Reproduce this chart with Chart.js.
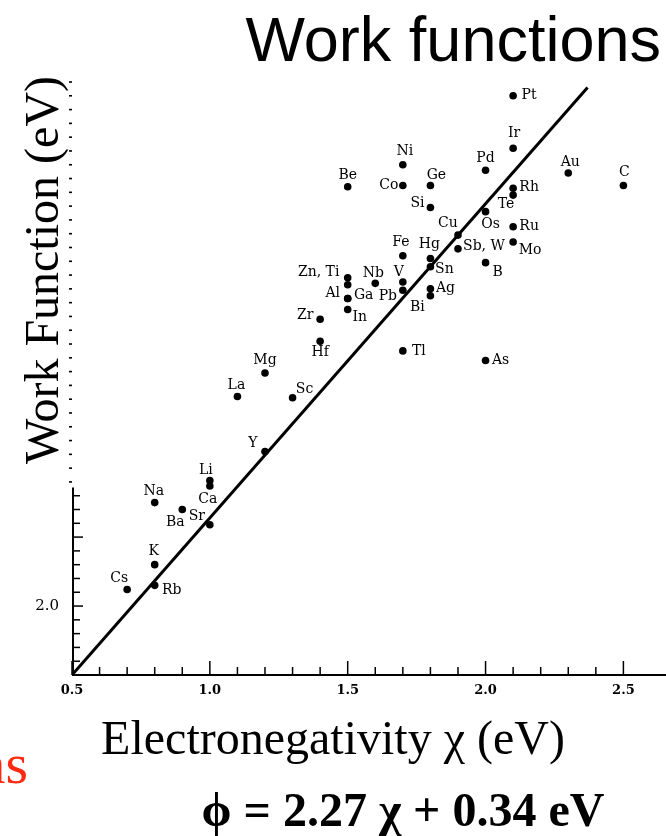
<!DOCTYPE html>
<html>
<head>
<meta charset="utf-8">
<script src="https://cdn.jsdelivr.net/npm/chart.js@4/dist/chart.umd.min.js"></script>
<style>
  html, body { margin: 0; padding: 0; background: #fff; }
  #wrap { position: relative; width: 666px; height: 836px; }
</style>
</head>
<body>
<div id="wrap"><canvas id="chart" width="666" height="836"></canvas></div>
<script>
// data
const elements = ['Pt', 'Ir', 'Pd', 'Au', 'C', 'Ni', 'Be', 'Co', 'Ge', 'Si',
  'Rh', 'Te', 'Os', 'Ru', 'Cu', 'Sb, W', 'Mo', 'Fe', 'Hg', 'Sn',
  'B', 'Zn', 'Ti', 'Al', 'Ga', 'Nb', 'V', 'Pb', 'Ag', 'Bi',
  'In', 'Zr', 'Hf', 'Tl', 'As', 'Mg', 'La', 'Sc', 'Y', 'Li',
  'Ca', 'Na', 'Ba', 'Sr', 'K', 'Rb', 'Cs']
const electronegativity = [2.1, 2.1, 2.0, 2.3, 2.5, 1.7, 1.5, 1.7, 1.8, 1.8,
  2.1, 2.1, 2.0, 2.1, 1.9, 1.9, 2.1, 1.7, 1.8, 1.8,
  2.0, 1.5, 1.5, 1.5, 1.5, 1.6, 1.7, 1.7, 1.8, 1.8,
  1.5, 1.4, 1.4, 1.7, 2.0, 1.2, 1.1, 1.3, 1.2, 1.0,
  1.0, 0.8, 0.9, 1.0, 0.8, 0.8, 0.7]
const workFunction = [5.70, 5.32, 5.16, 5.14, 5.05, 5.20, 5.04, 5.05, 5.05, 4.89,
  5.03, 4.98, 4.86, 4.75, 4.69, 4.59, 4.64, 4.54, 4.52, 4.46,
  4.49, 4.38, 4.33, 4.23, 4.23, 4.34, 4.35, 4.29, 4.30, 4.25,
  4.15, 4.08, 3.92, 3.85, 3.78, 3.69, 3.52, 3.51, 3.12, 2.91,
  2.87, 2.75, 2.70, 2.59, 2.30, 2.15, 2.12]
const fitLineX = [0.5, 2.37]
const fitLineY = [1.5, 5.76]
const xTickLabels = ['0.5', '1.0', '1.5', '2.0', '2.5']
const yTickLabels = ['2.0']

// where each name sits relative to its dot (label centre, px)
const labelOffsets = {
  Pt: [16, 0], Ir: [1, -15], Pd: [0, -12], Au: [2, -11], C: [1, -13],
  Ni: [2, -13], Be: [0, -11], Co: [-14, 0], Ge: [6, -10], Si: [-13, -4],
  Rh: [16, -1], Te: [-7, 9], Os: [5, 13], Ru: [16, 0], Cu: [-10, -12],
  'Sb, W': [26, -3], Mo: [17, 8], Fe: [-2, -13], Hg: [-1, -14], Sn: [14, 3],
  B: [12, 10], Zn: [-29, -5], Al: [-15, -5], Ga: [16, -3], Nb: [-2, -10],
  V: [-4, -10], Pb: [-15, 6], Ag: [15, -1], Bi: [-13, 12], In: [12, 8],
  Zr: [-15, -4], Hf: [0, 11], Tl: [16, 0], As: [15, 0], Mg: [0, -13],
  La: [-1, -11], Sc: [12, -8], Y: [-12, -8], Li: [-4, -10], Ca: [-2, 13],
  Na: [-1, -11], Ba: [-7, 13], Sr: [-13, -8], K: [-1, -13], Rb: [17, 5],
  Cs: [-8, -11]
}
const labelText = { Zn: 'Zn, Ti', Ti: '' }

const SERIF = '"Liberation Serif", "Times New Roman", serif'
const LABEL_SERIF = '"DejaVu Serif", serif'
const yAxisSolidFrom = 2.86

const isMultiple = (v, step) => Math.abs(v / step - Math.round(v / step)) < 1e-6

const pointLabels = {
  id: 'pointLabels',
  afterDatasetsDraw (chart) {
    const ctx = chart.ctx
    const meta = chart.getDatasetMeta(0)
    ctx.save()
    ctx.font = '14px ' + LABEL_SERIF
    ctx.fillStyle = '#000'
    ctx.textAlign = 'center'
    ctx.textBaseline = 'middle'
    meta.data.forEach((pt, i) => {
      const name = elements[i]
      const text = name in labelText ? labelText[name] : name
      if (!text) return
      const off = labelOffsets[name] || [12, 0]
      ctx.fillText(text, pt.x + off[0], pt.y + off[1])
    })
    ctx.restore()
  }
}

const axesAndText = {
  id: 'axesAndText',
  afterDraw (chart) {
    const ctx = chart.ctx
    const xs = chart.scales.x
    const ys = chart.scales.y
    const area = chart.chartArea
    ctx.save()
    ctx.strokeStyle = '#000'
    ctx.lineCap = 'butt'

    // x ticks, pointing into the plot
    ctx.lineWidth = 1.5
    xs.ticks.forEach(t => {
      if (!isMultiple(t.value, 0.1)) return
      const px = xs.getPixelForValue(t.value)
      const len = isMultiple(t.value, 0.5) ? 14 : 8
      ctx.beginPath()
      ctx.moveTo(px, area.bottom)
      ctx.lineTo(px, area.bottom - len)
      ctx.stroke()
    })

    // x axis line runs to the picture edge
    ctx.lineWidth = 2
    ctx.beginPath()
    ctx.moveTo(area.left, area.bottom)
    ctx.lineTo(chart.width, area.bottom)
    ctx.stroke()

    // y axis: solid lower part, faint dashes above
    const solidTop = ys.getPixelForValue(yAxisSolidFrom)
    ctx.beginPath()
    ctx.moveTo(area.left + 1, solidTop)
    ctx.lineTo(area.left + 1, area.bottom)
    ctx.stroke()
    ys.ticks.forEach(t => {
      if (!isMultiple(t.value, 0.1)) return
      const py = ys.getPixelForValue(t.value)
      if (t.value <= yAxisSolidFrom + 1e-6) {
        ctx.lineWidth = 1.5
        const len = isMultiple(t.value, 0.5) ? 11 : 8
        ctx.beginPath()
        ctx.moveTo(area.left, py)
        ctx.lineTo(area.left + len, py)
        ctx.stroke()
      } else {
        ctx.lineWidth = 1.6
        ctx.beginPath()
        ctx.moveTo(area.left - 3, py)
        ctx.lineTo(area.left, py)
        ctx.stroke()
      }
    })

    // titles and captions
    ctx.fillStyle = '#000'
    ctx.textBaseline = 'alphabetic'

    ctx.font = '63px "Liberation Sans", Arial, sans-serif'
    ctx.textAlign = 'right'
    ctx.fillText('Work functions', 661, 61)

    ctx.font = '48px ' + SERIF
    ctx.textAlign = 'center'
    ctx.fillText('Electronegativity \u03c7 (eV)', 333, 754)

    ctx.save()
    ctx.translate(58, 270)
    ctx.rotate(-Math.PI / 2)
    ctx.fillText('Work Function (eV)', 0, 0)
    ctx.restore()

    ctx.font = 'bold 48px ' + SERIF
    ctx.fillText('\u03d5 = 2.27 \u03c7 + 0.34 eV', 403, 826)

    ctx.font = '58px ' + SERIF
    ctx.fillStyle = '#ff2a10'
    ctx.textAlign = 'right'
    ctx.fillText('ns', 28, 783)

    ctx.restore()
  }
}

const ctx = document.getElementById('chart').getContext('2d')
const chart = new Chart(ctx, {
  data: {
    datasets: [
      {
        type: 'scatter',
        label: 'Work function',
        data: electronegativity.map((x, i) => ({ x, y: workFunction[i] })),
        pointRadius: 3.8,
        pointBackgroundColor: '#000',
        pointBorderWidth: 0
      },
      {
        type: 'line',
        label: 'Fit',
        data: fitLineX.map((x, i) => ({ x, y: fitLineY[i] })),
        borderColor: '#000',
        borderWidth: 3,
        pointRadius: 0,
        fill: false,
        tension: 0
      }
    ]
  },
  options: {
    responsive: false,
    animation: false,
    devicePixelRatio: 1,
    layout: { padding: { top: 82, left: 0, right: 0, bottom: 0 } },
    plugins: {
      legend: { display: false },
      tooltip: { enabled: false }
    },
    scales: {
      x: {
        type: 'linear',
        min: 0.5,
        max: 2.64,
        afterFit: scale => {
          scale.height = 161
          scale.paddingLeft = 0
          scale.paddingRight = 0
        },
        grid: { display: false },
        border: { display: false },
        ticks: {
          stepSize: 0.1,
          autoSkip: false,
          maxRotation: 0,
          padding: 0,
          color: '#000',
          font: { family: LABEL_SERIF, size: 13, weight: 'bold' },
          callback: v => {
            const s = Number(v).toFixed(1)
            return isMultiple(v, 0.5) && xTickLabels.includes(s) ? s : ''
          }
        }
      },
      y: {
        type: 'linear',
        min: 1.5,
        max: 5.8,
        afterFit: scale => { scale.width = 72 },
        grid: { display: false },
        border: { display: false },
        ticks: {
          stepSize: 0.1,
          autoSkip: false,
          padding: 5,
          color: '#000',
          font: { family: LABEL_SERIF, size: 15 },
          callback: v => {
            const s = Number(v).toFixed(1)
            return isMultiple(v, 0.1) && yTickLabels.includes(s) ? s : ''
          }
        }
      }
    }
  },
  plugins: [pointLabels, axesAndText]
})
</script>
</body>
</html>
